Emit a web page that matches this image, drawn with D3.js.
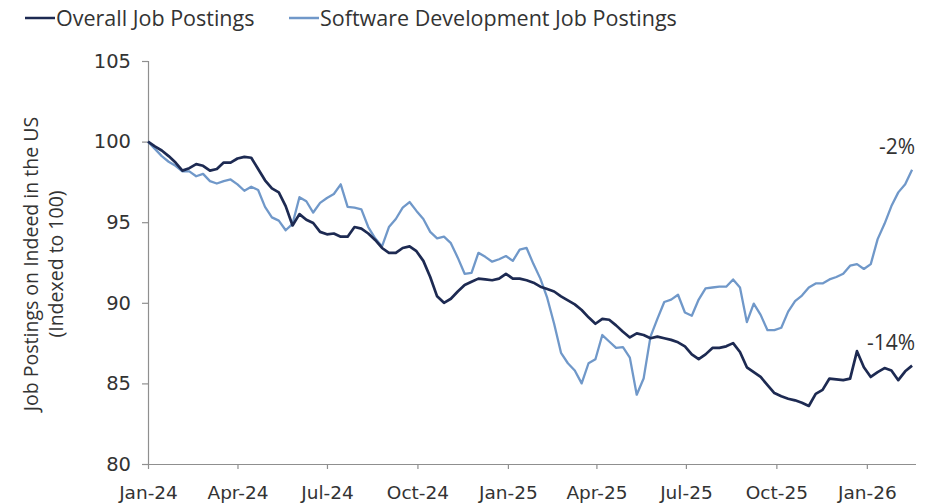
<!DOCTYPE html>
<html>
<head>
<meta charset="utf-8">
<script src="https://cdn.jsdelivr.net/npm/d3@7"></script>
<style>
  html, body { margin: 0; padding: 0; background: #fff; }
  svg { display: block; }
</style>
</head>
<body>
<svg id="chart" width="929" height="504"></svg>
<script>
// ---- Data ----
const dates = [
  "2024-01-01","2024-01-08","2024-01-15","2024-01-22","2024-01-29","2024-02-05","2024-02-12","2024-02-19","2024-02-26","2024-03-04",
  "2024-03-11","2024-03-18","2024-03-25","2024-04-01","2024-04-08","2024-04-15","2024-04-22","2024-04-29","2024-05-06","2024-05-13",
  "2024-05-20","2024-05-27","2024-06-03","2024-06-10","2024-06-17","2024-06-24","2024-07-01","2024-07-08","2024-07-15","2024-07-22",
  "2024-07-29","2024-08-05","2024-08-12","2024-08-19","2024-08-26","2024-09-02","2024-09-09","2024-09-16","2024-09-23","2024-09-30",
  "2024-10-07","2024-10-14","2024-10-21","2024-10-28","2024-11-04","2024-11-11","2024-11-18","2024-11-25","2024-12-02","2024-12-09",
  "2024-12-16","2024-12-23","2024-12-30","2025-01-06","2025-01-13","2025-01-20","2025-01-27","2025-02-03","2025-02-10","2025-02-17",
  "2025-02-24","2025-03-03","2025-03-10","2025-03-17","2025-03-24","2025-03-31","2025-04-07","2025-04-14","2025-04-21","2025-04-28",
  "2025-05-05","2025-05-12","2025-05-19","2025-05-26","2025-06-02","2025-06-09","2025-06-16","2025-06-23","2025-06-30","2025-07-07",
  "2025-07-14","2025-07-21","2025-07-28","2025-08-04","2025-08-11","2025-08-18","2025-08-25","2025-09-01","2025-09-08","2025-09-15",
  "2025-09-22","2025-09-29","2025-10-06","2025-10-13","2025-10-20","2025-10-27","2025-11-03","2025-11-10","2025-11-17","2025-11-24",
  "2025-12-01","2025-12-08","2025-12-15","2025-12-22","2025-12-29","2026-01-05","2026-01-12","2026-01-19","2026-01-26","2026-02-02",
  "2026-02-09","2026-02-16"
];
const overall = [
  100.0, 99.7, 99.45, 99.1, 98.7, 98.2, 98.35, 98.6, 98.5, 98.2,
  98.3, 98.7, 98.7, 98.95, 99.05, 99.0, 98.3, 97.6, 97.1, 96.85,
  96.0, 94.8, 95.5, 95.15, 94.95, 94.4, 94.25, 94.3, 94.1, 94.1,
  94.7, 94.6, 94.3, 93.9, 93.4, 93.1, 93.1, 93.4, 93.5, 93.2,
  92.6, 91.6, 90.4, 90.0, 90.25, 90.7, 91.1, 91.3, 91.5, 91.45,
  91.4, 91.5, 91.8, 91.5, 91.5, 91.4, 91.25, 91.0, 90.85, 90.7,
  90.4, 90.15, 89.9, 89.55, 89.1, 88.7, 89.0, 88.95, 88.6, 88.2,
  87.85, 88.1, 88.0, 87.8, 87.9, 87.8, 87.7, 87.55, 87.3, 86.8,
  86.5, 86.8, 87.2, 87.2, 87.3, 87.5, 86.95, 86.0, 85.7, 85.4,
  84.9, 84.4, 84.2, 84.05, 83.95, 83.8, 83.6, 84.35, 84.6, 85.3,
  85.25, 85.2, 85.3, 87.0, 86.0, 85.4, 85.7, 85.95, 85.8, 85.2,
  85.75, 86.1
];
const software = [
  100.0, 99.55, 99.1, 98.75, 98.5, 98.15, 98.15, 97.85, 98.0, 97.55,
  97.4, 97.55, 97.65, 97.35, 96.95, 97.2, 97.0, 95.95, 95.3, 95.1,
  94.5, 94.9, 96.55, 96.3, 95.6, 96.2, 96.5, 96.75, 97.35, 95.95,
  95.9, 95.8, 94.7, 94.0, 93.5, 94.7, 95.2, 95.9, 96.25, 95.7,
  95.2, 94.4, 94.0, 94.1, 93.7, 92.8, 91.8, 91.85, 93.1, 92.85,
  92.55, 92.7, 92.9, 92.6, 93.3, 93.4, 92.4, 91.5, 90.3, 88.7,
  86.9, 86.25, 85.8, 85.0, 86.25, 86.5, 88.0, 87.6, 87.2, 87.25,
  86.6, 84.3, 85.3, 87.9, 89.0, 90.05, 90.2, 90.5, 89.4, 89.2,
  90.2, 90.9, 90.95, 91.0, 91.0, 91.45, 90.95, 88.8, 89.95, 89.25,
  88.3, 88.3, 88.45, 89.45, 90.1, 90.45, 90.95, 91.2, 91.2, 91.45,
  91.6, 91.8, 92.3, 92.4, 92.1, 92.4, 93.95, 94.9, 96.0, 96.85,
  97.35, 98.25
];
const yTicks = [80, 85, 90, 95, 100, 105];
const seriesNames = ["Overall Job Postings", "Software Development Job Postings"];
const endLabels = ["-14%", "-2%"];
const yTitle = ["Job Postings on Indeed in the US", "(Indexed to 100)"];
const xDomain = ["2024-01-01", "2026-02-20"];

// ---- Setup ----
const parse = d3.timeParse("%Y-%m-%d");
const colors = ["#1d2a52", "#7098c9"];
const widths = [2.7, 2.3];
const svg = d3.select("#chart");
const mLeft = 148, mRight = 916, mTop = 61, mBottom = 464;

const x = d3.scaleTime().domain(xDomain.map(parse)).range([mLeft, mRight]);
const y = d3.scaleLinear().domain([80, 105]).range([mBottom, mTop]);

const axisColor = "#8f8f8f";
const textColor = "#333";

// Y axis
const yAxis = svg.append("g").attr("transform", `translate(${mLeft},0)`)
  .call(d3.axisLeft(y).tickValues(yTicks).tickSize(6).tickPadding(11).tickFormat(d3.format("d")));
yAxis.select(".domain").attr("stroke", axisColor).attr("stroke-width", 1.2);
yAxis.selectAll(".tick line").attr("stroke", axisColor).attr("stroke-width", 1.2);
yAxis.selectAll(".tick text").attr("fill", textColor)
  .style("font-family", "'DejaVu Sans', sans-serif").style("font-size", "19.5px");

// X axis
const xAxis = svg.append("g").attr("transform", `translate(0,${mBottom})`)
  .call(d3.axisBottom(x).ticks(d3.timeMonth.every(3)).tickSize(5).tickPadding(17)
    .tickFormat(d3.timeFormat("%b-%y")));
xAxis.select(".domain").attr("stroke", axisColor).attr("stroke-width", 1.2)
  .attr("d", `M${mLeft - 5},0.5H${mRight}`);
xAxis.selectAll(".tick line").attr("stroke", axisColor).attr("stroke-width", 1.2);
xAxis.selectAll(".tick text").attr("fill", textColor)
  .style("font-family", "'DejaVu Sans', sans-serif").style("font-size", "18.5px");

// Y title
const yt = svg.append("text")
  .attr("transform", `translate(43,264) rotate(-90)`)
  .attr("text-anchor", "middle")
  .attr("fill", textColor)
  .style("font-family", "'Open Sans', sans-serif").style("font-size", "19.5px");
yt.append("tspan").attr("x", 0).attr("dy", "-0.25em").text(yTitle[0]);
yt.append("tspan").attr("x", 0).attr("dy", "1.25em").text(yTitle[1]);

// Lines
const seriesData = [overall, software];
const line = d3.line()
  .x((d, i) => x(parse(dates[i])))
  .y(d => y(d));
[1, 0].forEach(s => {
  svg.append("path")
    .datum(seriesData[s])
    .attr("fill", "none")
    .attr("stroke", colors[s])
    .attr("stroke-width", widths[s])
    .attr("stroke-linejoin", "round")
    .attr("d", line);
});

// End labels
[0, 1].forEach(s => {
  const vals = seriesData[s];
  const last = vals[vals.length - 1];
  const lx = x(parse(dates[dates.length - 1]));
  svg.append("text")
    .attr("x", lx + 3)
    .attr("y", y(last) - 16)
    .attr("text-anchor", "end")
    .attr("fill", textColor)
    .style("font-family", "'Open Sans', sans-serif").style("font-size", "21px")
    .text(endLabels[s]);
});

// Legend
const legend = svg.append("g");
const legendItems = [
  { x0: 25, name: seriesNames[0], color: colors[0] },
  { x0: 289, name: seriesNames[1], color: colors[1] }
];
legendItems.forEach(it => {
  legend.append("line")
    .attr("x1", it.x0).attr("x2", it.x0 + 30)
    .attr("y1", 18).attr("y2", 18)
    .attr("stroke", it.color).attr("stroke-width", 2.5);
  legend.append("text")
    .attr("x", it.x0 + 31).attr("y", 26)
    .attr("fill", textColor)
    .style("font-family", "'Open Sans', sans-serif").style("font-size", "21.5px")
    .text(it.name);
});
</script>
</body>
</html>
